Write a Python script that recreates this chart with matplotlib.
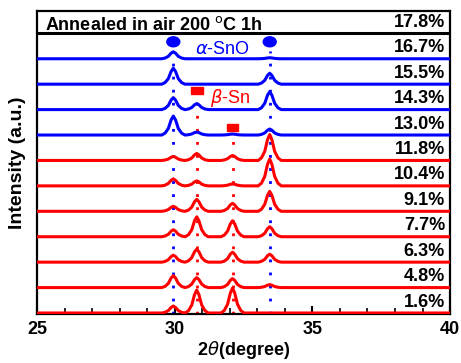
import matplotlib
matplotlib.use('Agg')
import matplotlib.pyplot as plt
from matplotlib.patches import Ellipse, Rectangle
import numpy as np

plt.rcParams['font.family'] = ['Liberation Sans', 'DejaVu Sans']
plt.rcParams['mathtext.fontset'] = 'dejavusans'

# composition labels, bottom to top
labels = ['1.6%', '4.8%', '6.3%', '7.7%', '9.1%', '10.4%',
          '11.8%', '13.0%', '14.3%', '15.5%', '16.7%', '17.8%']
colors = ['red'] * 7 + ['blue'] * 4 + ['black']

# peak positions (2theta) : a-SnO, b-Sn, b-Sn, a-SnO
peak_pos = [29.95, 30.8, 32.1, 33.45]

# peak heights (a.u.), bottom to top
heights = [
    [7, 23, 25, 0],     # 1.6%
    [12, 10, 9, 3],     # 4.8%
    [7, 13, 10, 8],     # 6.3%
    [7, 20, 16, 10],    # 7.7%
    [5, 12, 8, 20],     # 9.1%
    [7, 5, 2, 27],      # 10.4%
    [4, 7, 5, 26],      # 11.8%
    [19, 3, 1, 6],      # 13.0%
    [12, 6, 0, 18],     # 14.3%
    [16, 0, 0, 11],     # 15.5%
    [7, 0, 0, 1],       # 16.7%
    [0, 0, 0, 0],       # 17.8%
]

# shared peak outline
prof_dx = [-0.42, -0.3, -0.18, -0.08, 0.0, 0.08, 0.18, 0.3, 0.42]
prof_frac = [0, 0.1, 0.35, 0.8, 1.0, 0.8, 0.35, 0.1, 0]

step = 25.5

fig = plt.figure(figsize=(4.61, 3.63), dpi=100)
ax = fig.add_axes([0.0803, 0.135, 0.896, 0.835])

for i, h in enumerate(heights):
    off = i * step
    xs = [25.0]
    ys = [off]
    for p, hh in zip(peak_pos, h):
        for dx, fr in zip(prof_dx, prof_frac):
            xs.append(p + dx)
            ys.append(off + hh * fr)
    xs.append(40.0)
    ys.append(off)
    ax.plot(xs, ys, color=colors[i], lw=2.2, zorder=3)
    ax.text(39.82, off + 2.5, labels[i], ha='right', va='bottom',
            fontsize=13, fontweight='bold', zorder=5)

# dotted guide lines
dash = (0, (1.0, 3.7))
ax.plot([29.95, 29.95], [-1, 263], color='blue', lw=2.0, ls=dash, zorder=2)
ax.plot([33.45, 33.45], [-1, 263], color='blue', lw=2.0, ls=dash, zorder=2)
ax.plot([30.8, 30.8], [-1, 217], color='red', lw=2.0, ls=dash, zorder=2)
ax.plot([32.1, 32.1], [-1, 180], color='red', lw=2.0, ls=dash, zorder=2)

# phase markers
for p in [29.95, 33.45]:
    ax.add_patch(Ellipse((p, 272), 0.47, 10, color='blue', zorder=5))
ax.add_patch(Rectangle((30.8 - 0.21, 219.5), 0.42, 7, color='red', zorder=5))
ax.add_patch(Rectangle((32.1 - 0.19, 183), 0.38, 7, color='red', zorder=5))

ax.text(31.75, 260, r'$\alpha$-SnO', color='blue', fontsize=13,
        ha='center', va='baseline')
ax.text(32.0, 211, r'$\beta$-Sn', color='red', fontsize=13,
        ha='center', va='baseline')

ax.text(25.3, 284, r'Annealed in air 200 $^{\rm o}$C 1h', fontsize=13,
        fontweight='bold', ha='left', va='baseline')

ax.set_xlim(25, 40)
ax.set_ylim(-1, 303)
ax.set_xticks([25, 30, 35, 40])
ax.set_xticks(np.arange(25, 41, 1), minor=True)
ax.set_yticks([])
ax.tick_params(axis='x', which='major', direction='in', length=6, width=1.5,
               labelsize=13, pad=5)
ax.tick_params(axis='x', which='minor', direction='in', length=4, width=1.2)
for lab in ax.get_xticklabels():
    lab.set_fontweight('bold')
for s in ax.spines.values():
    s.set_linewidth(1.6)

ax.set_xlabel(r'2$\theta$(degree)', fontsize=13, fontweight='bold', labelpad=1)
ax.set_ylabel('Intensity (a.u.)', fontsize=14, fontweight='bold', labelpad=8)

fig.savefig('out.png', dpi=100)
